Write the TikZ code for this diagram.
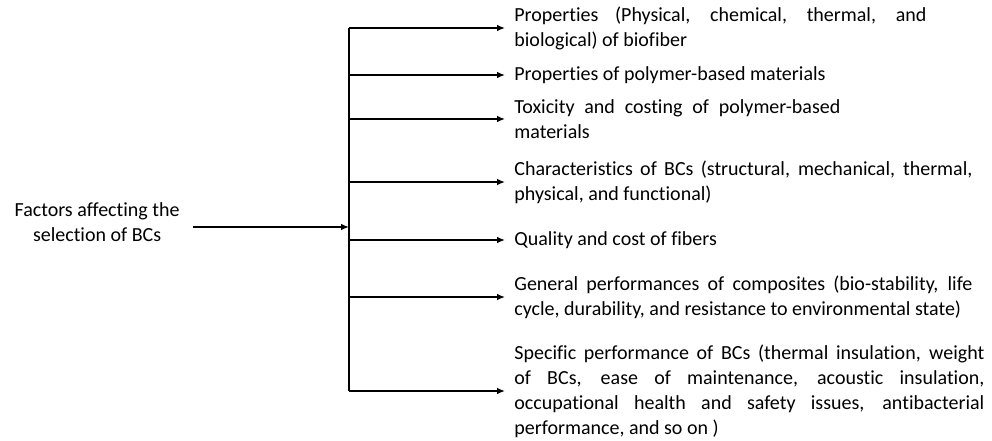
\documentclass[tikz,border=0pt]{standalone}
\usepackage{fontspec}
\setmainfont{Carlito}[Ligatures={NoCommon,NoContextual}]
\usepackage{tikz}
\usetikzlibrary{arrows.meta,calc}

\begin{document}
\begin{tikzpicture}[x=0.5pt,y=-0.5pt,>={Latex[length=4pt,width=3.4pt]},
	branch/.style={->,line width=0.95pt},
	factor/.style={anchor=west,inner xsep=4.5pt,inner ysep=0pt,align=justify,
		font=\fontsize{10pt}{12.5pt}\selectfont,
		execute at begin node={\hyphenpenalty=10000 \exhyphenpenalty=10000 }},
	source/.style={anchor=east,inner xsep=6.5pt,align=center,
		font=\fontsize{10pt}{12.5pt}\selectfont}]
	
	\useasboundingbox (0,0) rectangle (992,440);
	
	%----------------------------------------
	% Trunk points
	%----------------------------------------
	\coordinate (T1) at (349,28);
	\coordinate (T2) at (349,75);
	\coordinate (T3) at (349,119);
	\coordinate (T4) at (349,182);
	\coordinate (T5) at (349,240);
	\coordinate (T6) at (349,297);
	\coordinate (T7) at (349,391);
	\coordinate (Tin) at (349,227);
	
	%----------------------------------------
	% Source
	%----------------------------------------
	\node[source] (S) at (193,222) {Factors affecting the\\selection of BCs};
	
	%----------------------------------------
	% Factors
	%----------------------------------------
	\node[factor,text width=206pt] (F1) at (505,28)
	{Properties (Physical, chemical, thermal, and\linebreak biological) of biofiber};
	\node[factor,text width=229pt] (F2) at (505,75)
	{Properties of polymer-based materials};
	\node[factor,text width=163pt] (F3) at (505,119)
	{Toxicity and costing of polymer-based\linebreak materials};
	\node[factor,text width=229pt] (F4) at (505,182)
	{Characteristics of BCs (structural, mechanical, thermal,\linebreak physical, and functional)};
	\node[factor,text width=229pt] (F5) at (505,240)
	{Quality and cost of fibers};
	\node[factor,text width=229pt] (F6) at (505,297)
	{General performances of composites (bio-stability, life\linebreak cycle, durability, and resistance to environmental state)};
	\node[factor,text width=235pt] (F7) at (505,391)
	{Specific performance of BCs (thermal insulation, weight\linebreak of BCs, ease of maintenance, acoustic insulation,\linebreak occupational health and safety issues, antibacterial\linebreak performance, and so on )};
	
	%----------------------------------------
	% Connectors
	%----------------------------------------
	\draw[line width=0.95pt] (T1)--(T7);
	\draw[branch] (S.east |- Tin)--(Tin);
	\foreach \i in {1,...,7}
	\draw[branch] (T\i)--(F\i.west);
	
\end{tikzpicture}
\end{document}
